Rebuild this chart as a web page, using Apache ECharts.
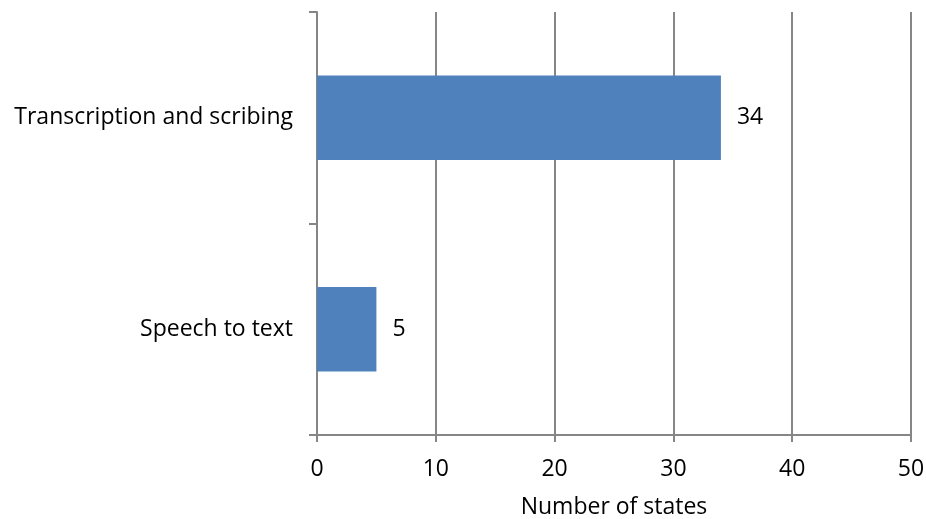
<!DOCTYPE html>
<html>
<head>
<meta charset="utf-8">
<script src="https://cdn.jsdelivr.net/npm/echarts@6/dist/echarts.min.js"></script>
<style>
  html, body { margin: 0; padding: 0; background: #fff; }
  #chart { width: 926px; height: 519px; }
</style>
</head>
<body>
<div id="chart"></div>
<script>
// Categories listed bottom-to-top along the vertical axis
const categories = ['Speech to text', 'Transcription and scribing'];
const stateCounts = [5, 34];
const xTicks = [0, 10, 20, 30, 40, 50];

const FONT = '"Open Sans", "Noto Sans", sans-serif';
const FONT_SIZE = 23;
const AXIS_GRAY = '#868686';

const chart = echarts.init(document.getElementById('chart'), null, { renderer: 'canvas' });
chart.setOption({
  animation: false,
  grid: {
    left: 317, right: 15, top: 12, bottom: 84,
    containLabel: false,
    outerBoundsMode: 'none'
  },
  xAxis: {
    type: 'value',
    min: xTicks[0],
    max: xTicks[xTicks.length - 1],
    interval: 10,
    name: 'Number of states',
    nameLocation: 'middle',
    nameGap: 61,
    nameTextStyle: { fontFamily: FONT, fontSize: FONT_SIZE, color: '#000' },
    axisLine: { show: true, lineStyle: { color: AXIS_GRAY, width: 2 } },
    axisTick: { show: true, length: 7, lineStyle: { color: AXIS_GRAY, width: 2 } },
    axisLabel: { fontFamily: FONT, fontSize: FONT_SIZE, color: '#000', margin: 23 },
    splitLine: { show: true, lineStyle: { color: AXIS_GRAY, width: 2 } }
  },
  yAxis: {
    type: 'category',
    data: categories,
    axisLine: { show: true, lineStyle: { color: AXIS_GRAY, width: 2 } },
    axisTick: { show: true, length: 8, lineStyle: { color: AXIS_GRAY, width: 2 } },
    axisLabel: { fontFamily: FONT, fontSize: FONT_SIZE, color: '#000', margin: 24 },
    splitLine: { show: false }
  },
  series: [{
    type: 'bar',
    data: stateCounts,
    barCategoryGap: '60%',
    itemStyle: { color: '#4F81BD' },
    label: {
      show: true,
      position: 'right',
      distance: 16,
      fontFamily: FONT,
      fontSize: FONT_SIZE,
      color: '#000'
    }
  }]
});
</script>
</body>
</html>
